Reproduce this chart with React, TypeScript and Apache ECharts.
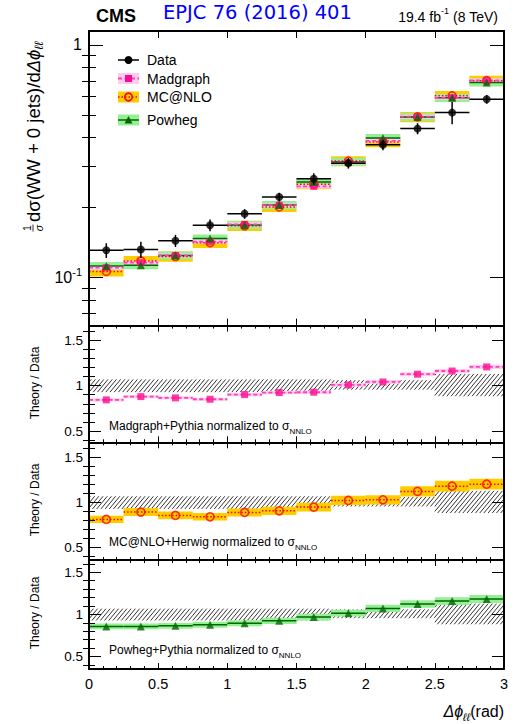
import React, { useEffect, useRef } from "react";
import * as echarts from "echarts";

// ---------------- data ----------------
const BIN_EDGES = [0, 0.25, 0.5, 0.75, 1.0, 1.25, 1.5, 1.75, 2.0, 2.25, 2.5, 2.75, 3.0];
const DATA = [0.131, 0.132, 0.144, 0.168, 0.188, 0.222, 0.266, 0.31, 0.372, 0.437, 0.512, 0.584];
const DATA_ERR = [0.073, 0.08, 0.06, 0.057, 0.048, 0.043, 0.055, 0.051, 0.051, 0.055, 0.11, 0.043];
const MADGRAPH_RATIO = [0.843, 0.879, 0.865, 0.85, 0.901, 0.923, 0.927, 1.008, 1.04, 1.125, 1.16, 1.205];
const MCNLO_RATIO = [0.812, 0.893, 0.856, 0.841, 0.889, 0.907, 0.948, 1.022, 1.029, 1.122, 1.18, 1.202];
const POWHEG_RATIO = [0.857, 0.857, 0.865, 0.877, 0.896, 0.924, 0.968, 1.015, 1.071, 1.123, 1.158, 1.182];
const HATCH_LO = [0.928, 0.928, 0.928, 0.928, 0.928, 0.928, 0.928, 0.955, 0.955, 0.955, 0.883, 0.883];
const HATCH_HI = [1.068, 1.068, 1.068, 1.068, 1.068, 1.068, 1.068, 1.06, 1.06, 1.06, 1.128, 1.128];
const MADGRAPH_UNC = 0.02;
const MCNLO_UNC = 0.05;
const POWHEG_UNC = 0.04;
const MAIN_Y_MAJOR = [0.1, 1];
const MAIN_Y_MINOR = [0.07, 0.08, 0.09, 0.2, 0.3, 0.4, 0.5, 0.6, 0.7, 0.8, 0.9];
const RATIO_Y_MAJOR = [0.5, 1, 1.5];
const RATIO_Y_MINOR = [0.4, 0.6, 0.7, 0.8, 0.9, 1.1, 1.2, 1.3, 1.4, 1.6];
const PANEL_TEXTS = ["Madgraph+Pythia normalized to ", "MC@NLO+Herwig normalized to ", "Powheg+Pythia normalized to "];
const LEGEND_LABELS = ["Data", "Madgraph", "MC@NLO", "Powheg"];

// ---------------- style / layout ----------------
const FONT = "Liberation Sans, Arial, Helvetica, sans-serif";
const MG_MARK = "#ff0a8f";
const MG_LINE = "#ff40b8";
const MG_BAND = "#ffccf0";
const MC_LINE = "#ff0000";
const MC_BAND = "#ffcc00";
const PW_LINE = "#006600";
const PW_BAND = "#95ef95";

const LEFT = 89;
const WIDTH = 415;
const PANELS = [
  { top: 31, height: 294.6, min: 0.0622, max: 1.148, log: true },
  { top: 325.6, height: 116.7, min: 0.377, max: 1.659, log: false },
  { top: 442.3, height: 117.7, min: 0.363, max: 1.665, log: false },
  { top: 560, height: 109, min: 0.353, max: 1.645, log: false },
];

const NB = DATA.length;
const idx = Array.from({ length: NB }, (_, i) => i);
const lo = (i: number) => BIN_EDGES[i];
const hi = (i: number) => BIN_EDGES[i + 1];
const mid = (i: number) => (BIN_EDGES[i] + BIN_EDGES[i + 1]) / 2;

function rectSeries(g: number, rows: number[][], fill: string, z = 2) {
  return {
    type: "custom",
    xAxisIndex: 2 * g,
    yAxisIndex: 4 * g,
    data: rows,
    encode: { x: [0, 1], y: [2, 3] },
    silent: true,
    z,
    renderItem: (_p: any, api: any) => {
      const a = api.coord([api.value(0), api.value(3)]);
      const b = api.coord([api.value(1), api.value(2)]);
      return {
        type: "rect",
        shape: { x: a[0], y: a[1], width: b[0] - a[0], height: b[1] - a[1] },
        style: { fill },
      };
    },
  };
}

function segSeries(g: number, rows: number[][], stroke: string, lineWidth: number, dash: number[] | null, z = 3) {
  return {
    type: "custom",
    xAxisIndex: 2 * g,
    yAxisIndex: 4 * g,
    data: rows,
    encode: { x: [0, 1], y: [2] },
    silent: true,
    z,
    renderItem: (_p: any, api: any) => {
      const a = api.coord([api.value(0), api.value(2)]);
      const b = api.coord([api.value(1), api.value(2)]);
      return {
        type: "line",
        shape: { x1: a[0], y1: a[1], x2: b[0], y2: b[1] },
        style: { stroke, lineWidth, lineDash: dash || undefined },
      };
    },
  };
}

function hatchSeries(g: number, rows: number[][]) {
  return {
    type: "custom",
    xAxisIndex: 2 * g,
    yAxisIndex: 4 * g,
    data: rows,
    encode: { x: [0, 1], y: [2, 3] },
    silent: true,
    z: 2,
    renderItem: (_p: any, api: any) => {
      const a = api.coord([api.value(0), api.value(3)]);
      const b = api.coord([api.value(1), api.value(2)]);
      const x0 = a[0], y0 = a[1], x1 = b[0], y1 = b[1];
      const m = 1.2;
      const sx = 4.2;
      const step = m * sx;
      const children: any[] = [];
      const cStart = Math.floor((y0 + m * x0) / step) * step;
      for (let c = cStart; c <= y1 + m * x1; c += step) {
        const xa = Math.max(x0, (c - y1) / m);
        const xb = Math.min(x1, (c - y0) / m);
        if (xb > xa) {
          children.push({
            type: "line",
            shape: { x1: xa, y1: c - m * xa, x2: xb, y2: c - m * xb },
            style: { stroke: "#1e1e1e", lineWidth: 0.9 },
          });
        }
      }
      return { type: "group", children };
    },
  };
}

function markerSeries(g: number, pts: number[][], symbol: string, size: number, itemStyle: any, z = 4) {
  return {
    type: "scatter",
    xAxisIndex: 2 * g,
    yAxisIndex: 4 * g,
    data: pts,
    symbol,
    symbolSize: size,
    itemStyle,
    silent: true,
    z,
  };
}

function buildOption() {
  const grids = PANELS.map((p) => ({ left: LEFT, top: p.top, width: WIDTH, height: p.height }));

  const xAxes: any[] = [];
  PANELS.forEach((_p, g) => {
    const base = {
      gridIndex: g,
      type: "value",
      min: 0,
      max: 3,
      interval: 0.5,
      z: 10,
      splitLine: { show: false },
      axisLine: { show: true, onZero: false, lineStyle: { color: "#000", width: 2 } },
      axisTick: { show: true, inside: true, length: g === 0 ? 7 : 6, lineStyle: { color: "#000", width: 1 } },
      minorTick: { show: g > 0, splitNumber: 5, length: 3, lineStyle: { color: "#000", width: 1 } },
    };
    xAxes.push({
      ...base,
      position: "bottom",
      axisLabel:
        g === 3
          ? { show: true, fontSize: 14.5, color: "#000", margin: 7, fontFamily: FONT, formatter: (v: number) => String(v) }
          : { show: false },
    });
    xAxes.push({ ...base, position: "top", axisLabel: { show: false } });
  });

  const yAxes: any[] = [];
  PANELS.forEach((p, g) => {
    const major = g === 0 ? MAIN_Y_MAJOR : RATIO_Y_MAJOR;
    const minor = g === 0 ? MAIN_Y_MINOR : RATIO_Y_MINOR;
    const base: any = {
      gridIndex: g,
      type: p.log ? "log" : "value",
      min: p.min,
      max: p.max,
      z: 10,
      splitLine: { show: false },
      minorTick: { show: false },
    };
    if (p.log) base.logBase = 10;
    const label =
      g === 0
        ? {
            show: true,
            customValues: major,
            margin: 7,
            formatter: (v: number) => (v > 0.5 ? "{b|1}" : "{b|10}{p|-1}"),
            rich: {
              b: { fontSize: 16, fontFamily: FONT, color: "#000", lineHeight: 22, verticalAlign: "middle" },
              p: { fontSize: 11, fontFamily: FONT, color: "#000", lineHeight: 22, verticalAlign: "top" },
            },
          }
        : {
            show: true,
            customValues: major,
            margin: 6,
            fontSize: 13.5,
            color: "#000",
            fontFamily: FONT,
            formatter: (v: number) => String(v),
          };
    ["left", "right"].forEach((pos) => {
      yAxes.push({
        ...base,
        position: pos,
        axisLine: { show: true, onZero: false, lineStyle: { color: "#000", width: 2 } },
        axisTick: { show: true, inside: true, length: g === 0 ? 14 : 12, customValues: major, lineStyle: { color: "#000", width: 1 } },
        axisLabel: pos === "left" ? label : { show: false },
      });
      yAxes.push({
        ...base,
        position: pos,
        axisLine: { show: false },
        axisTick: { show: true, inside: true, length: g === 0 ? 7 : 6, customValues: minor, lineStyle: { color: "#000", width: 1 } },
        axisLabel: { show: false },
      });
    });
  });

  // main panel values
  const mg = idx.map((i) => DATA[i] * MADGRAPH_RATIO[i]);
  const mc = idx.map((i) => DATA[i] * MCNLO_RATIO[i]);
  const pw = idx.map((i) => DATA[i] * POWHEG_RATIO[i]);

  const band = (vals: number[], unc: number) => idx.map((i) => [lo(i), hi(i), vals[i] * (1 - unc), vals[i] * (1 + unc)]);
  const segs = (vals: number[]) => idx.map((i) => [lo(i), hi(i), vals[i]]);
  const pts = (vals: number[]) => idx.map((i) => [mid(i), vals[i]]);

  const MC_ITEM = { color: "rgba(0,0,0,0)", borderColor: MC_LINE, borderWidth: 1.6 };
  const MG_ITEM = { color: MG_MARK };
  const PW_ITEM = { color: PW_LINE };

  const series: any[] = [
    rectSeries(0, band(mc, MCNLO_UNC), MC_BAND),
    rectSeries(0, band(pw, POWHEG_UNC), PW_BAND),
    rectSeries(0, band(mg, MADGRAPH_UNC), MG_BAND),
    segSeries(0, segs(mc), MC_LINE, 1.5, [1.5, 2]),
    segSeries(0, segs(pw), PW_LINE, 1.5, null),
    segSeries(0, segs(mg), MG_LINE, 1.8, [4, 2.5]),
    markerSeries(0, pts(mc), "circle", 8, MC_ITEM),
    markerSeries(0, pts(mg), "rect", 7, MG_ITEM),
    markerSeries(0, pts(pw), "triangle", 8, PW_ITEM),
    {
      type: "custom",
      xAxisIndex: 0,
      yAxisIndex: 0,
      data: idx.map((i) => [lo(i), hi(i), DATA[i], DATA[i] * (1 - DATA_ERR[i]), DATA[i] * (1 + DATA_ERR[i])]),
      encode: { x: [0, 1], y: [2, 3, 4] },
      silent: true,
      z: 5,
      renderItem: (_p: any, api: any) => {
        const xm = (api.value(0) + api.value(1)) / 2;
        const l = api.coord([api.value(0), api.value(2)]);
        const r = api.coord([api.value(1), api.value(2)]);
        const t = api.coord([xm, api.value(4)]);
        const b = api.coord([xm, api.value(3)]);
        return {
          type: "group",
          children: [
            { type: "line", shape: { x1: l[0], y1: l[1], x2: r[0], y2: r[1] }, style: { stroke: "#000", lineWidth: 1.5 } },
            { type: "line", shape: { x1: t[0], y1: t[1], x2: b[0], y2: b[1] }, style: { stroke: "#000", lineWidth: 1.5 } },
          ],
        };
      },
    },
    markerSeries(0, pts(DATA), "circle", 8, { color: "#000" }, 6),
  ];

  const hatchRows = idx.map((i) => [lo(i), hi(i), HATCH_LO[i], HATCH_HI[i]]);
  const ratios = [MADGRAPH_RATIO, MCNLO_RATIO, POWHEG_RATIO];
  const uncs = [MADGRAPH_UNC, MCNLO_UNC, POWHEG_UNC];
  ratios.forEach((r, k) => {
    const g = k + 1;
    series.push(hatchSeries(g, hatchRows));
    if (k === 0) {
      series.push(rectSeries(g, band(r, uncs[k]), MG_BAND, 3));
      series.push(segSeries(g, segs(r), MG_LINE, 1.8, [4, 2.5], 4));
      series.push(markerSeries(g, pts(r), "rect", 7, MG_ITEM, 5));
    } else if (k === 1) {
      series.push(rectSeries(g, band(r, uncs[k]), MC_BAND, 3));
      series.push(segSeries(g, segs(r), MC_LINE, 1.5, [1.5, 2], 4));
      series.push(markerSeries(g, pts(r), "circle", 8, MC_ITEM, 5));
    } else {
      series.push(rectSeries(g, band(r, uncs[k]), PW_BAND, 3));
      series.push(segSeries(g, segs(r), PW_LINE, 1.5, null, 4));
      series.push(markerSeries(g, pts(r), "triangle", 8, PW_ITEM, 5));
    }
  });

  // ---------- graphic: header, legend, titles ----------
  const txt = (x: number, y: number, text: string, extra: any = {}) => ({
    type: "text",
    x,
    y,
    silent: true,
    z: 20,
    style: { text, fontFamily: FONT, fontSize: 14, fill: "#000", verticalAlign: "middle", align: "left", ...extra },
  });

  const LX0 = 118, LX1 = 139, LXC = 128.5;
  const rows = [60, 78.5, 97, 120];
  const legend: any[] = [
    { type: "line", shape: { x1: LX0, y1: rows[0], x2: LX1, y2: rows[0] }, style: { stroke: "#000", lineWidth: 1.5 } },
    { type: "circle", shape: { cx: LXC, cy: rows[0], r: 4 }, style: { fill: "#000" } },
    { type: "rect", shape: { x: LX0, y: rows[1] - 5.5, width: LX1 - LX0, height: 11 }, style: { fill: MG_BAND } },
    { type: "line", shape: { x1: LX0, y1: rows[1], x2: LX1, y2: rows[1] }, style: { stroke: MG_LINE, lineWidth: 1.8, lineDash: [4, 2.5] } },
    { type: "rect", shape: { x: LXC - 3.5, y: rows[1] - 3.5, width: 7, height: 7 }, style: { fill: MG_MARK } },
    { type: "rect", shape: { x: LX0, y: rows[2] - 5.5, width: LX1 - LX0, height: 11 }, style: { fill: MC_BAND } },
    { type: "line", shape: { x1: LX0, y1: rows[2], x2: LX1, y2: rows[2] }, style: { stroke: MC_LINE, lineWidth: 1.5, lineDash: [1.5, 2] } },
    { type: "circle", shape: { cx: LXC, cy: rows[2], r: 3.8 }, style: { fill: "none", stroke: MC_LINE, lineWidth: 1.6 } },
    { type: "rect", shape: { x: LX0, y: rows[3] - 5.5, width: LX1 - LX0, height: 11 }, style: { fill: PW_BAND } },
    { type: "line", shape: { x1: LX0, y1: rows[3], x2: LX1, y2: rows[3] }, style: { stroke: PW_LINE, lineWidth: 1.5 } },
    { type: "polygon", shape: { points: [[LXC - 4, rows[3] + 3.5], [LXC + 4, rows[3] + 3.5], [LXC, rows[3] - 4]] }, style: { fill: PW_LINE } },
    ...LEGEND_LABELS.map((l, i) => txt(147, rows[i], l, { fontSize: 14 })),
  ].map((e: any) => ({ silent: true, z: 20, ...e }));

  const supRich = (base: number, small: number) => ({
    n: { fontSize: base, fontFamily: FONT, fill: "#000", color: "#000", lineHeight: base + 6, verticalAlign: "middle" },
    p: { fontSize: small, fontFamily: FONT, fill: "#000", color: "#000", lineHeight: base + 6, verticalAlign: "top" },
    s: { fontSize: small, fontFamily: FONT, fill: "#000", color: "#000", lineHeight: base + 6, verticalAlign: "bottom" },
    g: { fontSize: base, fontFamily: FONT, fill: "#000", color: "#000", lineHeight: base + 6, verticalAlign: "middle" },
    i: { fontSize: base, fontFamily: FONT, fontStyle: "italic", fill: "#000", color: "#000", lineHeight: base + 6, verticalAlign: "middle" },
    si: { fontSize: small, fontFamily: FONT, fontStyle: "italic", fill: "#000", color: "#000", lineHeight: base + 6, verticalAlign: "bottom" },
  });

  const panelCenters = [383, 500, 613];
  const panelTextY = [426, 542, 650];

  const texts: any[] = [
    txt(96, 15.5, "CMS", { fontSize: 18, fontWeight: "bold" }),
    txt(163, 12.5, "EPJC 76 (2016) 401", { fontSize: 19.5, fontFamily: "DejaVu Sans", fill: "#0000ff" }),
    txt(498, 16.5, "{n|19.4 fb}{p|-1}{n| (8 TeV)}", { align: "right", rich: supRich(14, 9) }),
    txt(504, 711, "{i|Δϕ}{si|ℓℓ}{n|(rad)}", { align: "right", rich: supRich(16, 11) }),
    ...panelCenters.map((y) => ({
      type: "text",
      x: 35,
      y,
      rotation: Math.PI / 2,
      silent: true,
      z: 20,
      style: { text: "Theory / Data", fontFamily: FONT, fontSize: 12, fill: "#000", align: "center", verticalAlign: "middle" },
    })),
    ...PANEL_TEXTS.map((t, k) => txt(109, panelTextY[k], `{n|${t}}{g|σ}{s|NNLO}`, { rich: supRich(12, 8) })),
    {
      type: "group",
      x: 33,
      y: 131,
      rotation: Math.PI / 2,
      silent: true,
      z: 20,
      children: [
        { type: "text", x: -97, y: -6, style: { text: "1", fontFamily: FONT, fontSize: 10.5, fill: "#000", align: "center", verticalAlign: "middle" } },
        { type: "line", shape: { x1: -100.5, y1: 0, x2: -93.5, y2: 0 }, style: { stroke: "#000", lineWidth: 0.8 } },
        { type: "text", x: -97, y: 6, style: { text: "σ", fontFamily: FONT, fontSize: 10.5, fontStyle: "italic", fill: "#000", align: "center", verticalAlign: "middle" } },
        {
          type: "text",
          x: -91,
          y: 0,
          style: {
            text: "{n|dσ(WW + 0 jets)/d}{i|Δϕ}{si|ℓℓ}",
            align: "left",
            verticalAlign: "middle",
            rich: supRich(18.5, 12),
          },
        },
      ],
    },
  ];

  return {
    animation: false,
    backgroundColor: "#fff",
    textStyle: { fontFamily: FONT },
    grid: grids,
    xAxis: xAxes,
    yAxis: yAxes,
    series,
    graphic: { elements: [...legend, ...texts] },
  };
}

export default function App() {
  const ref = useRef<HTMLDivElement>(null);
  useEffect(() => {
    document.body.style.margin = "0";
    const chart = echarts.init(ref.current as HTMLDivElement, undefined, { renderer: "svg" });
    chart.setOption(buildOption() as any);
    return () => chart.dispose();
  }, []);
  return <div ref={ref} style={{ width: 514, height: 724 }} />;
}
